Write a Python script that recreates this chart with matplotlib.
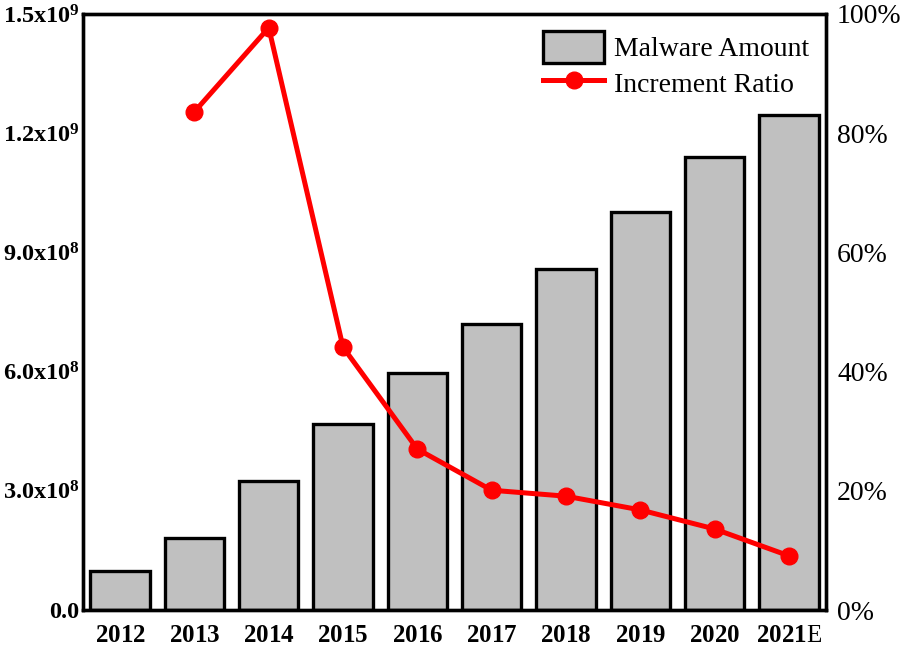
import matplotlib
matplotlib.use("Agg")
import matplotlib.pyplot as plt
import numpy as np

plt.rcParams['font.family'] = ['Liberation Serif', 'DejaVu Serif']
plt.rcParams['mathtext.fontset'] = 'custom'
plt.rcParams['mathtext.rm'] = 'Liberation Serif'
plt.rcParams['mathtext.bf'] = 'Liberation Serif:bold'
plt.rcParams['mathtext.default'] = 'bf'

years = ["2012", "2013", "2014", "2015", "2016", "2017", "2018", "2019", "2020", "2021"]
year_labels = [r"$\mathbf{%s}$" % y for y in years[:-1]] + [r"$\mathbf{2021}$E"]
malware = [0.098e9, 0.181e9, 0.325e9, 0.468e9, 0.597e9, 0.72e9, 0.858e9, 1.002e9, 1.14e9, 1.246e9]
ratio_years = years[1:]
ratio = [83.6, 97.7, 44.1, 27.0, 20.1, 19.1, 16.8, 13.6, 9.1]

left_ticks = [0, 3e8, 6e8, 9e8, 1.2e9, 1.5e9]
left_labels = ["0.0", "3.0x10$^{8}$", "6.0x10$^{8}$", "9.0x10$^{8}$",
               "1.2x10$^{9}$", "1.5x10$^{9}$"]
right_ticks = [0, 20, 40, 60, 80, 100]

fig = plt.figure(figsize=(9.04, 6.48), dpi=100)
ax = fig.add_axes([0.0918, 0.0586, 0.8219, 0.9198])
x = np.arange(len(years))
bars = ax.bar(x, malware, width=0.8, color="#c0c0c0", edgecolor="black", linewidth=2.4,
              label="Malware Amount")
ax.set_xlim(-0.5, len(years) - 0.5)
ax.set_ylim(0, 1.5e9)
ax.set_xticks(x)
ax.set_xticklabels(year_labels, fontsize=18)
ax.set_yticks(left_ticks)
ax.set_yticklabels(left_labels, fontsize=17.5, fontweight="bold")
ax.tick_params(axis="x", length=0, pad=11)
ax.tick_params(axis="y", length=0, pad=2.5)

ax2 = ax.twinx()
xr = [years.index(y) for y in ratio_years]
line, = ax2.plot(xr, ratio, color="#ff0000", linewidth=3.6, marker="o", markersize=12,
                 label="Increment Ratio")
ax2.set_ylim(0, 100)
ax2.set_yticks(right_ticks)
ax2.set_yticklabels(["%d%%" % t for t in right_ticks], fontsize=20)
ax2.tick_params(length=0, pad=8)

for a in (ax, ax2):
    for s in a.spines.values():
        s.set_linewidth(2.4)

ax2.legend([bars, line], ["Malware Amount", "Increment Ratio"], loc="upper right",
           frameon=False, fontsize=20, handlelength=2.2, handleheight=1.4,
           handletextpad=0.35, borderaxespad=0.2, labelspacing=0.15)

fig.savefig("out.png", dpi=100)
